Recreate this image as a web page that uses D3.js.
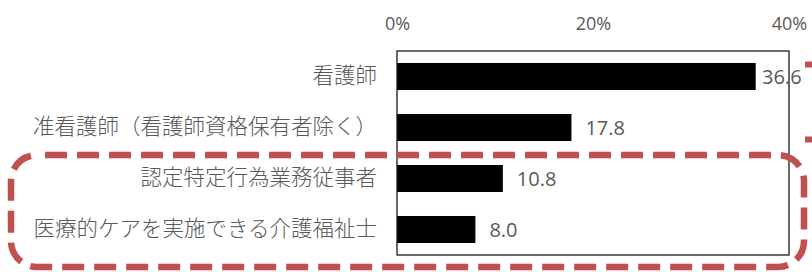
<!DOCTYPE html>
<html lang="ja">
<head>
    <meta charset="UTF-8">
    <title>職種別割合</title>
    <script src="https://cdn.jsdelivr.net/npm/d3@7/dist/d3.min.js"></script>
    <style>
        body { margin: 0; background: #fff; }
    </style>
</head>
<body>
<svg width="812" height="272"></svg>
<script>
    // データ
    var categories = ["看護師", "准看護師（看護師資格保有者除く）", "認定特定行為業務従事者", "医療的ケアを実施できる介護福祉士"];
    var values = [36.6, 17.8, 10.8, 8.0];
    var tickValues = [0, 20, 40];

    var svg = d3.select("svg");
    var plot = {left: 397, right: 789, top: 51, bottom: 255};
    var grey = "#595959";
    var latin = "'Open Sans', 'Noto Sans', sans-serif";
    var cjk = "'Noto Sans CJK JP', sans-serif";

    var x = d3.scaleLinear().domain([0, 40]).range([plot.left, plot.right]);
    var y = d3.scaleBand().domain(categories)
        .range([plot.top, plot.bottom])
        .paddingInner(0.47).paddingOuter(0.235);

    // 上の目盛りラベル
    var xAxis = d3.axisTop(x).tickValues(tickValues)
        .tickFormat(function (d) { return d + "%"; })
        .tickSize(0).tickPadding(0);
    var gx = svg.append("g")
        .attr("transform", "translate(0,30)")
        .call(xAxis);
    gx.select(".domain").remove();
    gx.selectAll("text")
        .attr("fill", grey)
        .style("font-family", latin)
        .style("font-size", "18px");

    // 棒
    svg.selectAll(".bar")
        .data(values)
        .enter()
        .append("rect")
        .attr("class", "bar")
        .attr("x", x(0))
        .attr("y", function (d, i) { return y(categories[i]); })
        .attr("width", function (d) { return x(d) - x(0); })
        .attr("height", y.bandwidth())
        .attr("fill", "#000");

    // 枠
    svg.append("rect")
        .attr("x", plot.left)
        .attr("y", plot.top)
        .attr("width", plot.right - plot.left)
        .attr("height", plot.bottom - plot.top)
        .attr("fill", "none")
        .attr("stroke", "#1a1a1a")
        .attr("stroke-width", 1.3);

    // カテゴリラベル
    var yAxis = d3.axisLeft(y).tickSize(0).tickPadding(20);
    var gy = svg.append("g")
        .attr("transform", "translate(" + plot.left + ",0)")
        .call(yAxis);
    gy.select(".domain").remove();
    gy.selectAll("text")
        .attr("fill", grey)
        .style("font-family", cjk)
        .style("font-weight", 300)
        .style("font-size", "21.5px");

    // 値ラベル
    svg.selectAll(".val")
        .data(values)
        .enter()
        .append("text")
        .attr("class", "val")
        .attr("x", function (d) { return Math.min(x(d) + 14, 762); })
        .attr("y", function (d, i) { return y(categories[i]) + y.bandwidth() / 2; })
        .attr("dy", "0.35em")
        .attr("fill", grey)
        .style("font-family", latin)
        .style("font-size", "20px")
        .text(function (d) { return d.toFixed(1); });

    // 赤い破線の囲み
    var red = "#C0504D";
    svg.append("rect")
        .attr("x", 11)
        .attr("y", 155)
        .attr("width", 793)
        .attr("height", 112)
        .attr("rx", 26)
        .attr("fill", "none")
        .attr("stroke", red)
        .attr("stroke-width", 6.5)
        .attr("stroke-dasharray", "22,10")
        .attr("stroke-dashoffset", -8);

    // 右端の別の囲み（はみ出し部分）
    svg.append("path")
        .attr("d", "M805,64.5H812M805,139.5H812")
        .attr("stroke", red)
        .attr("stroke-width", 6);
</script>
</body>
</html>
